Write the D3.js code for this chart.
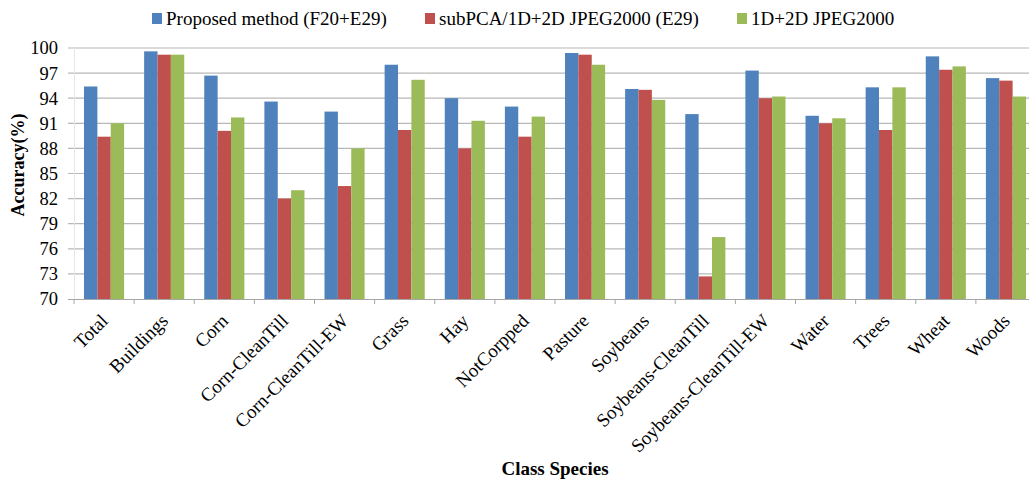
<!DOCTYPE html>
<html><head><meta charset="utf-8">
<script src="https://cdn.jsdelivr.net/npm/d3@7"></script>
<style>body{margin:0;background:#fff}svg{display:block}</style>
</head><body>
<svg id="c" width="1029" height="483"></svg>
<script>
const categories = ["Total","Buildings","Corn","Corn-CleanTill","Corn-CleanTill-EW","Grass","Hay","NotCorpped","Pasture","Soybeans","Soybeans-CleanTill","Soybeans-CleanTill-EW","Water","Trees","Wheat","Woods"];
const seriesNames = ["Proposed method (F20+E29)","subPCA/1D+2D JPEG2000 (E29)","1D+2D JPEG2000"];
const proposed = [95.4,99.6,96.7,93.6,92.4,98.0,94.0,93.0,99.4,95.1,92.1,97.3,91.9,95.3,99.0,96.4];
const subPCA   = [89.4,99.2,90.1,82.0,83.5,90.2,88.0,89.4,99.2,95.0,72.7,94.0,91.0,90.2,97.4,96.1];
const jpeg2000 = [91.0,99.2,91.7,83.0,88.0,96.2,91.3,91.8,98.0,93.8,77.4,94.2,91.6,95.3,97.8,94.2];
const yTicks = [70,73,76,79,82,85,88,91,94,97,100];
const colors = ["#4F81BD","#C0504D","#9BBB59"];

(function(){
const series = [proposed, subPCA, jpeg2000];
const svg = d3.select("#c");
const font = "'Liberation Serif','Times New Roman',serif";
const pl = 74, pr = 1036, pt = 48, pb = 299;

const x = d3.scaleBand().domain(categories).range([pl, pr]).paddingInner(0.333).paddingOuter(0.1665);
const xs = d3.scaleBand().domain(d3.range(3)).range([0, x.bandwidth()]);
const y = d3.scaleLinear().domain([70,100]).range([pb, pt]);

svg.append("g").selectAll("line").data(yTicks.filter(t=>t>70)).join("line")
  .attr("x1", 68).attr("x2", 1029).attr("y1", d=>y(d)).attr("y2", d=>y(d))
  .attr("stroke", "#b8b8b8").attr("stroke-width", 1.2);
svg.append("line").attr("x1", pl+0.5).attr("x2", pl+0.5).attr("y1", pt).attr("y2", pb)
  .attr("stroke", "#e6e6e6");

const g = svg.append("g");
series.forEach((vals, si) => {
  g.append("g").selectAll("rect").data(vals).join("rect")
    .attr("x", (d,i) => x(categories[i]) + xs(si))
    .attr("width", xs.bandwidth())
    .attr("y", d => y(d))
    .attr("height", d => y(70) - y(d))
    .attr("fill", colors[si]);
});

const step = x.step();
svg.append("line").attr("x1", 68).attr("x2", 1029).attr("y1", pb+0.5).attr("y2", pb+0.5)
  .attr("stroke", "#a6a6a6").attr("stroke-width", 1.2);
svg.append("g").selectAll("line").data(d3.range(categories.length+1)).join("line")
  .attr("x1", i => pl + i*step).attr("x2", i => pl + i*step)
  .attr("y1", pb).attr("y2", pb+5).attr("stroke", "#a6a6a6");

svg.append("g").selectAll("text").data(categories).join("text")
  .attr("transform", d => `translate(${x(d)+x.bandwidth()/2+5},${pb+23}) rotate(-45)`)
  .attr("text-anchor", "end").attr("font-family", font).attr("font-size", 19)
  .attr("fill", "#000").text(d => d);

svg.append("g").selectAll("text").data(yTicks).join("text")
  .attr("x", 58).attr("y", d => y(d)).attr("dy", "0.35em")
  .attr("text-anchor", "end").attr("font-family", font).attr("font-size", 18.5)
  .attr("fill", "#000").text(d => d);

svg.append("text").attr("transform", "translate(24,165) rotate(-90)")
  .attr("text-anchor", "middle").attr("font-family", font).attr("font-weight", "bold")
  .attr("font-size", 18).text("Accuracy(%)");
svg.append("text").attr("x", 555).attr("y", 475).attr("text-anchor", "middle")
  .attr("font-family", font).attr("font-weight", "bold").attr("font-size", 19).text("Class Species");

const legendX = [152, 425, 737];
const lg = svg.append("g").selectAll("g").data(seriesNames).join("g")
  .attr("transform", (d,i) => `translate(${legendX[i]},18)`);
lg.append("rect").attr("x", 0).attr("y", -5).attr("width", 10).attr("height", 11)
  .attr("fill", (d,i) => colors[i]);
lg.append("text").attr("x", 14).attr("y", 0).attr("dy", "0.35em")
  .attr("font-family", font).attr("font-size", 19).text(d => d);
})();
</script>
</body></html>
